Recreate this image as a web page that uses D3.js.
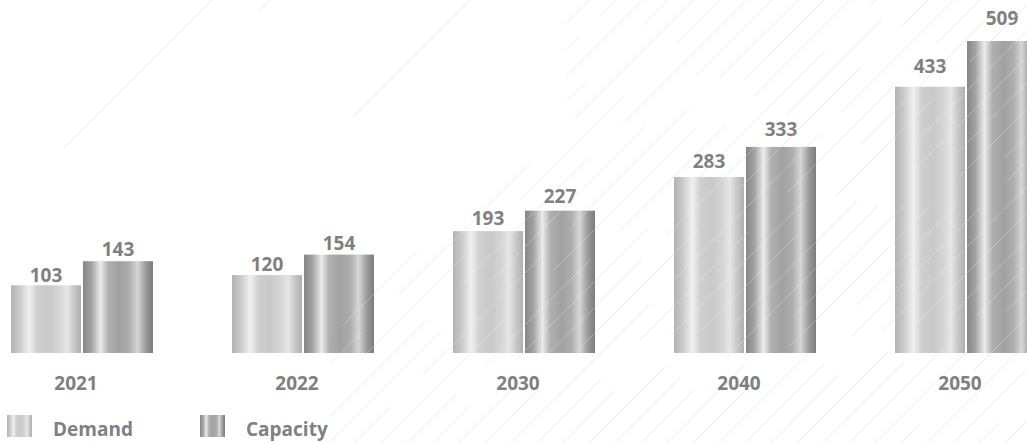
<!DOCTYPE html>
<html>
<head>
<meta charset="utf-8">
<script src="https://cdn.jsdelivr.net/npm/d3@7"></script>
<style>
  html, body { margin: 0; padding: 0; background: #fff; }
  svg { display: block; }
  text { font-family: "Open Sans", "Noto Sans", sans-serif; font-weight: 700; fill: #808080; }
</style>
</head>
<body>
<div id="chart"></div>
<script>
const years = ["2021", "2022", "2030", "2040", "2050"];
const demand = [103, 120, 193, 283, 433];
const capacity = [143, 154, 227, 333, 509];
const seriesNames = ["Demand", "Capacity"];

const W = 1027, H = 443;
const svg = d3.select("#chart").append("svg").attr("width", W).attr("height", H);
const defs = svg.append("defs");

// metallic gradients
const gradStops = {
  Demand: [[0, "#b3b3b3"], [0.12, "#c9c9c9"], [0.26, "#f0f0f0"], [0.38, "#cfcfcf"], [0.55, "#c9c9c9"], [0.7, "#d6d6d6"], [0.8, "#e6e6e6"], [0.9, "#c8c8c8"], [1, "#afafaf"]],
  Capacity: [[0, "#868686"], [0.12, "#a3a3a3"], [0.25, "#ebebeb"], [0.36, "#b0b0b0"], [0.52, "#a1a1a1"], [0.66, "#adadad"], [0.78, "#d6d6d6"], [0.9, "#9a9a9a"], [1, "#7c7c7c"]]
};
seriesNames.forEach(s => {
  const g = defs.append("linearGradient").attr("id", "g-" + s)
    .attr("x1", "0").attr("y1", "0").attr("x2", "1").attr("y2", "0");
  gradStops[s].forEach(([o, c]) => g.append("stop").attr("offset", o).attr("stop-color", c));
});

// decorative diagonal background lines
const clip = defs.append("clipPath").attr("id", "bgclip");
clip.append("polygon").attr("points", "566,0 1027,0 1027,443 330,443 330,340 420,235 566,140");
const bg = svg.append("g").attr("class", "bg");
const lineG = bg.append("g").attr("clip-path", "url(#bgclip)");
const cs = d3.range(330, 1500, 26);
const dash = (c, i) => `${130 + (i * 37) % 90} ${30 + (i * 23) % 50}`;
const dashOff = (c, i) => (i * 53) % 140;
lineG.selectAll("line").data(cs).join("line")
  .attr("x1", c => c - H).attr("y1", H).attr("x2", c => c).attr("y2", 0)
  .attr("stroke", "#ebebeb").attr("stroke-width", 1)
  .attr("stroke-dasharray", dash)
  .attr("stroke-dashoffset", dashOff);
// a few sparse long lines on the left
const sparse = [[212, 148], [270, 12], [470, 117]];
bg.selectAll("line.sp").data(sparse).join("line").attr("class", "sp")
  .attr("x1", d => d[0] - d[1]).attr("y1", d => d[1]).attr("x2", d => d[0]).attr("y2", 0)
  .attr("stroke", "#ebebeb").attr("stroke-width", 1);

// scales
const x0 = d3.scaleBand().domain(years).range([11, 1037]).paddingInner(0.3575).paddingOuter(0);
const x1 = d3.scaleBand().domain(seriesNames).range([0, x0.bandwidth()]).paddingInner(0.028);
const y = d3.scaleLinear().domain([-9.6, 509]).range([353, 41]);
// value labels sit on a slightly steeper scale (gap grows with height)
const yLabel = d3.scaleLinear().domain(y.domain()).range([353, 25]);

const rows = years.map((yr, i) => ({ year: yr, values: [
  { key: "Demand", value: demand[i] },
  { key: "Capacity", value: capacity[i] }
]}));

const groups = svg.append("g").selectAll("g.grp").data(rows).join("g")
  .attr("class", "grp")
  .attr("transform", d => `translate(${x0(d.year)},0)`);

groups.selectAll("rect").data(d => d.values).join("rect")
  .attr("x", d => x1(d.key))
  .attr("y", d => y(d.value))
  .attr("width", x1.bandwidth())
  .attr("height", d => y(y.domain()[0]) - y(d.value))
  .attr("fill", d => `url(#g-${d.key})`);

groups.selectAll("text.val").data(d => d.values).join("text")
  .attr("class", "val")
  .attr("x", d => x1(d.key) + x1.bandwidth() / 2)
  .attr("y", d => yLabel(d.value))
  .attr("text-anchor", "middle")
  .attr("font-size", 19)
  .text(d => d.value);

// faint diagonal streaks over the bars
svg.append("g").attr("clip-path", "url(#bgclip)").attr("opacity", 0.3)
  .selectAll("line").data(cs).join("line")
  .attr("x1", c => c - H).attr("y1", H).attr("x2", c => c).attr("y2", 0)
  .attr("stroke", "#f4f4f4").attr("stroke-width", 1)
  .attr("stroke-dasharray", dash)
  .attr("stroke-dashoffset", dashOff);

// x axis labels
const xAxis = d3.axisBottom(x0).tickSize(0).tickPadding(0);
const axG = svg.append("g").attr("transform", "translate(-6,376)").call(xAxis);
axG.select(".domain").remove();
axG.selectAll("text")
  .attr("font-size", 19).attr("dy", "0.71em")
  .style("font-family", "'Open Sans', 'Noto Sans', sans-serif")
  .style("font-weight", 700).attr("fill", "#808080");

// legend
const legendX = [7, 200];
const leg = svg.append("g").selectAll("g").data(seriesNames).join("g")
  .attr("transform", (d, i) => `translate(${legendX[i]},415)`);
leg.append("rect").attr("width", 25).attr("height", 22).attr("fill", d => `url(#g-${d})`);
leg.append("text").attr("x", 46).attr("y", 21).attr("font-size", 19).text(d => d);
</script>
</body>
</html>
